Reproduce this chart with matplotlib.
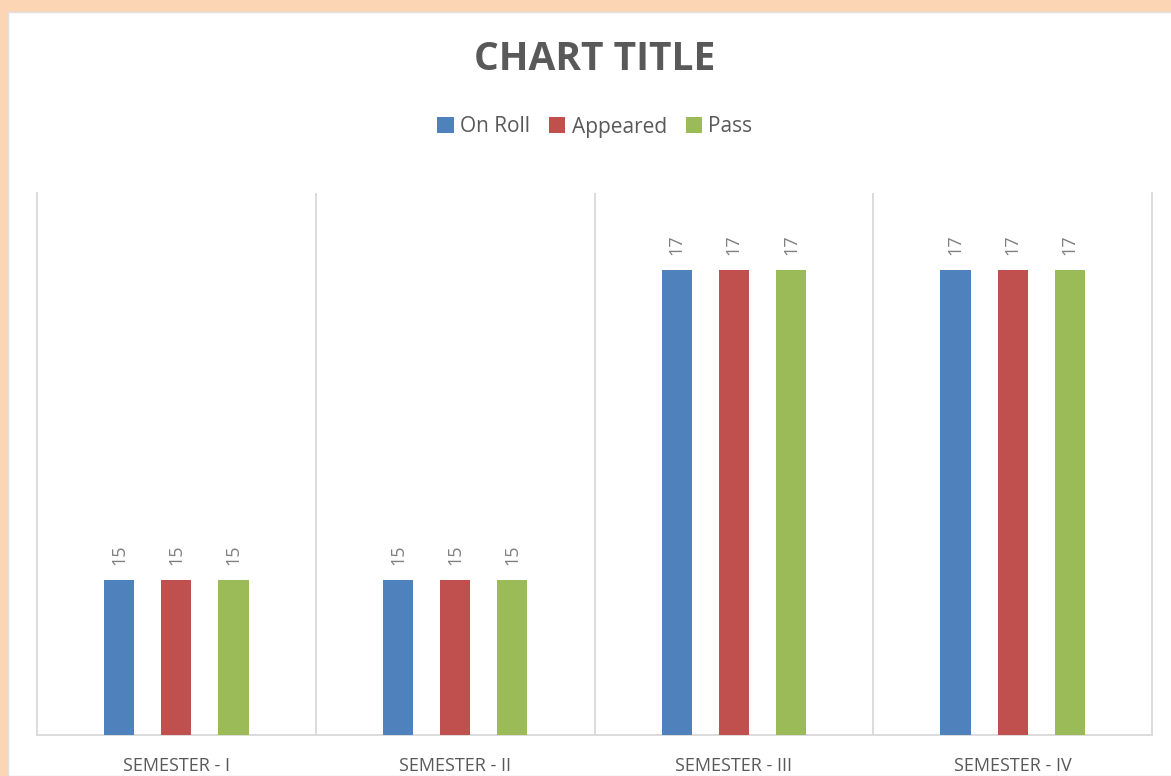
import matplotlib.pyplot as plt
from matplotlib.patches import Rectangle
import numpy as np

# Data
semesters = ["SEMESTER - I", "SEMESTER - II", "SEMESTER - III", "SEMESTER - IV"]
on_roll = [15, 15, 17, 17]
appeared = [15, 15, 17, 17]
passed = [15, 15, 17, 17]

series_names = ["On Roll", "Appeared", "Pass"]
colors = ['#4F81BD', '#C0504D', '#9BBB59']
text_gray = '#595959'
grid_gray = '#D9D9D9'

fig = plt.figure(figsize=(11.71, 7.76), dpi=100)
fig.patch.set_facecolor('#FCD5B4')
# white chart area on the peach page
fig.patches.append(Rectangle((8 / 1171, 0), 1, 1 - 12 / 776, transform=fig.transFigure,
                             facecolor='white', edgecolor='#E0E0E0', linewidth=1, zorder=-5))

ax = fig.add_axes([37 / 1171, 41 / 776, (1152 - 37) / 1171, (735 - 193) / 776])
ax.set_zorder(2)
ax.set_facecolor('white')

x = np.arange(len(semesters))
width = 0.108
offset = 0.205
for i, (vals, name, col) in enumerate(zip([on_roll, appeared, passed], series_names, colors)):
    bars = ax.bar(x + (i - 1) * offset, vals, width, color=col, label=name, zorder=3)
    for b, v in zip(bars, vals):
        ax.annotate(str(v), (b.get_x() + b.get_width() / 2, v), xytext=(0, 11),
                    textcoords='offset points', rotation=90, ha='center', va='bottom',
                    fontsize=13, color='#7F7F7F', family='Open Sans')

ax.set_xlim(-0.5, len(semesters) - 0.5)
ax.set_ylim(14, 17.5)

# category separators
for sep in x[:-1] + 0.5:
    ax.axvline(sep, color=grid_gray, linewidth=1.3, zorder=1)

for side in ['left', 'right', 'bottom']:
    ax.spines[side].set_color(grid_gray)
    ax.spines[side].set_linewidth(1.3)
ax.spines['top'].set_visible(False)

ax.set_yticks([])
ax.set_xticks(x)
ax.set_xticklabels(semesters, fontsize=13, color=text_gray, family='Open Sans')
ax.tick_params(axis='x', length=0, pad=16)

fig.text(0.508, 1 - 60 / 776, "CHART TITLE", ha='center', va='center', fontsize=28,
         fontweight='bold', color=text_gray, family='Open Sans')

fig.legend(loc='center', bbox_to_anchor=(0.508, 1 - 127 / 776), ncol=3, frameon=False,
           prop={'family': 'Open Sans', 'size': 15}, labelcolor=text_gray,
           handlelength=0.8, handleheight=0.8, handletextpad=0.3, columnspacing=0.9)

fig.savefig('out.png', dpi=100, facecolor=fig.get_facecolor())
